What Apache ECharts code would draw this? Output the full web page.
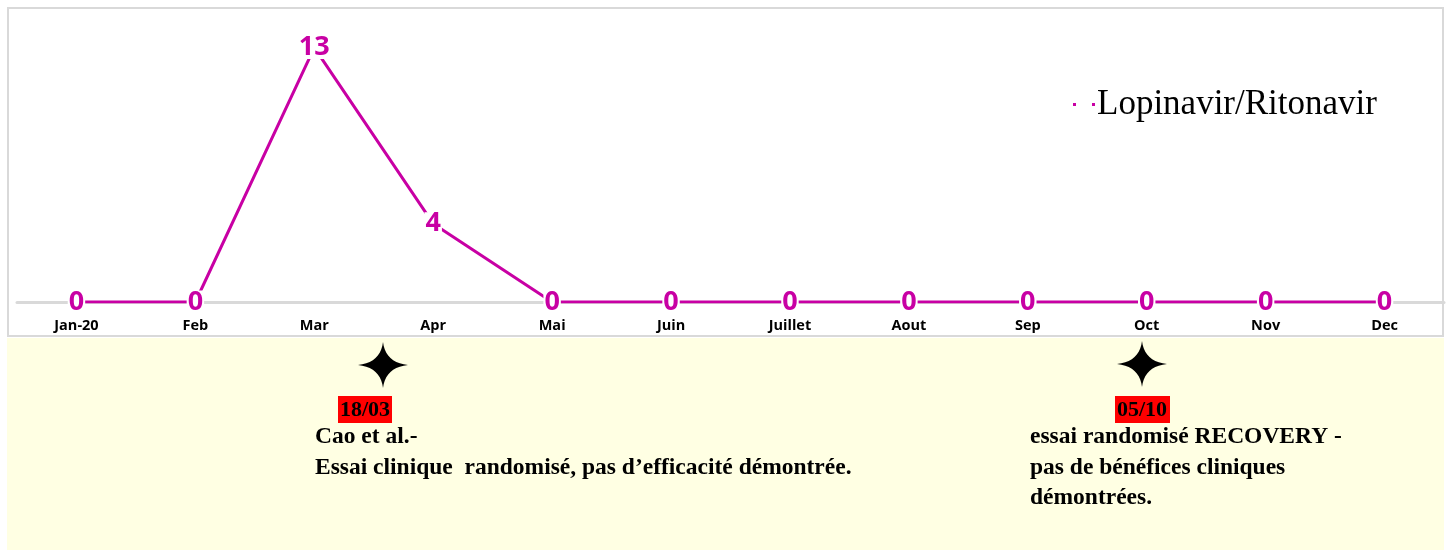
<!DOCTYPE html>
<html>
<head>
<meta charset="utf-8">
<script src="https://cdn.jsdelivr.net/npm/echarts@6/dist/echarts.min.js"></script>
<style>
  html, body { margin: 0; padding: 0; background: #fff; }
  #main { width: 1451px; height: 550px; }
</style>
</head>
<body>
<div id="main"></div>
<script>
var months = ['Jan-20', 'Feb', 'Mar', 'Apr', 'Mai', 'Juin', 'Juillet', 'Aout', 'Sep', 'Oct', 'Nov', 'Dec'];
var lopinavir = [0, 0, 13, 4, 0, 0, 0, 0, 0, 0, 0, 0];
var seriesName = 'Lopinavir/Ritonavir';

var magenta = '#C800A4';
var serif = '"Liberation Serif", "Times New Roman", serif';

// étoile à 4 branches : pointes sur les axes, côtés creusés (courbes de Bézier)
function starPoints(cx, cy, rx, ry) {
    var tips = [[0, -ry], [rx, 0], [0, ry], [-rx, 0]];
    var pts = [];
    for (var k = 0; k < 4; k++) {
        var p0 = tips[k], p2 = tips[(k + 1) % 4];
        var c = [(p0[0] + p2[0]) * 0.1, (p0[1] + p2[1]) * 0.1];
        for (var s = 0; s < 10; s++) {
            var t = s / 10, u = 1 - t;
            pts.push([
                cx + u * u * p0[0] + 2 * u * t * c[0] + t * t * p2[0],
                cy + u * u * p0[1] + 2 * u * t * c[1] + t * t * p2[1]
            ]);
        }
    }
    return pts;
}

var chart = echarts.init(document.getElementById('main'));

chart.setOption({
    animation: false,
    grid: { left: 17, right: 7, top: 28, bottom: 248 },
    legend: {
        data: [seriesName],
        left: 1068,
        top: 82,
        itemWidth: 22,
        itemHeight: 3,
        itemGap: 0,
        icon: 'path://M0,0h3v3h-3z M19,0h3v3h-3z',
        textStyle: { fontFamily: serif, fontSize: 35, color: '#000', padding: [0, 0, 0, -3] }
    },
    xAxis: {
        type: 'category',
        data: months,
        boundaryGap: true,
        axisLine: { lineStyle: { color: '#d9d9d9', width: 3 } },
        axisTick: { show: false },
        axisLabel: {
            margin: 16,
            fontFamily: '"Open Sans", sans-serif',
            fontWeight: 'bold',
            fontSize: 14.5,
            color: '#000'
        }
    },
    yAxis: {
        type: 'value',
        min: 0,
        max: 14,
        show: false,
        splitLine: { show: false }
    },
    series: [{
        name: seriesName,
        type: 'line',
        data: lopinavir,
        symbol: 'circle',
        symbolSize: 1,
        itemStyle: { color: magenta },
        lineStyle: { color: magenta, width: 3 },
        label: {
            show: true,
            position: 'inside',
            fontFamily: '"Open Sans", sans-serif',
            fontWeight: 'bold',
            fontSize: 27,
            color: magenta,
            backgroundColor: '#fff',
            padding: [0, 1],
            lineHeight: 23
        }
    }],
    graphic: [
        // cadre de la zone graphique
        { type: 'rect', z: -10, silent: true,
          shape: { x: 8, y: 8, width: 1435, height: 328 },
          style: { fill: '#fff', stroke: '#d9d9d9', lineWidth: 2 } },
        // bandeau jaune des événements
        { type: 'rect', z: -10, silent: true,
          shape: { x: 7, y: 338, width: 1437, height: 212 },
          style: { fill: '#FFFFE3' } },

        // 18/03
        { type: 'polygon', shape: { points: starPoints(383, 365, 25, 23) }, style: { fill: '#000' } },
        { type: 'rect', shape: { x: 338, y: 396, width: 54, height: 27 }, style: { fill: '#FF0000' } },
        { type: 'text', x: 365, y: 410,
          style: { text: '18/03', font: 'bold 22px ' + serif, fill: '#000', align: 'center', verticalAlign: 'middle' } },
        { type: 'text', x: 315, y: 437,
          style: { text: 'Cao et al.-', font: 'bold 23.5px ' + serif, fill: '#000', verticalAlign: 'middle' } },
        { type: 'text', x: 315, y: 468,
          style: { text: 'Essai clinique  randomisé, pas d\u2019efficacité démontrée.', font: 'bold 23.5px ' + serif, fill: '#000', verticalAlign: 'middle' } },

        // 05/10
        { type: 'polygon', shape: { points: starPoints(1142, 364, 25, 23) }, style: { fill: '#000' } },
        { type: 'rect', shape: { x: 1115, y: 396, width: 55, height: 27 }, style: { fill: '#FF0000' } },
        { type: 'text', x: 1142, y: 410,
          style: { text: '05/10', font: 'bold 22px ' + serif, fill: '#000', align: 'center', verticalAlign: 'middle' } },
        { type: 'text', x: 1030, y: 437,
          style: { text: 'essai randomisé RECOVERY -', font: 'bold 23.5px ' + serif, fill: '#000', verticalAlign: 'middle' } },
        { type: 'text', x: 1030, y: 468,
          style: { text: 'pas de bénéfices cliniques', font: 'bold 23.5px ' + serif, fill: '#000', verticalAlign: 'middle' } },
        { type: 'text', x: 1030, y: 498,
          style: { text: 'démontrées.', font: 'bold 23.5px ' + serif, fill: '#000', verticalAlign: 'middle' } }
    ]
});
</script>
</body>
</html>
